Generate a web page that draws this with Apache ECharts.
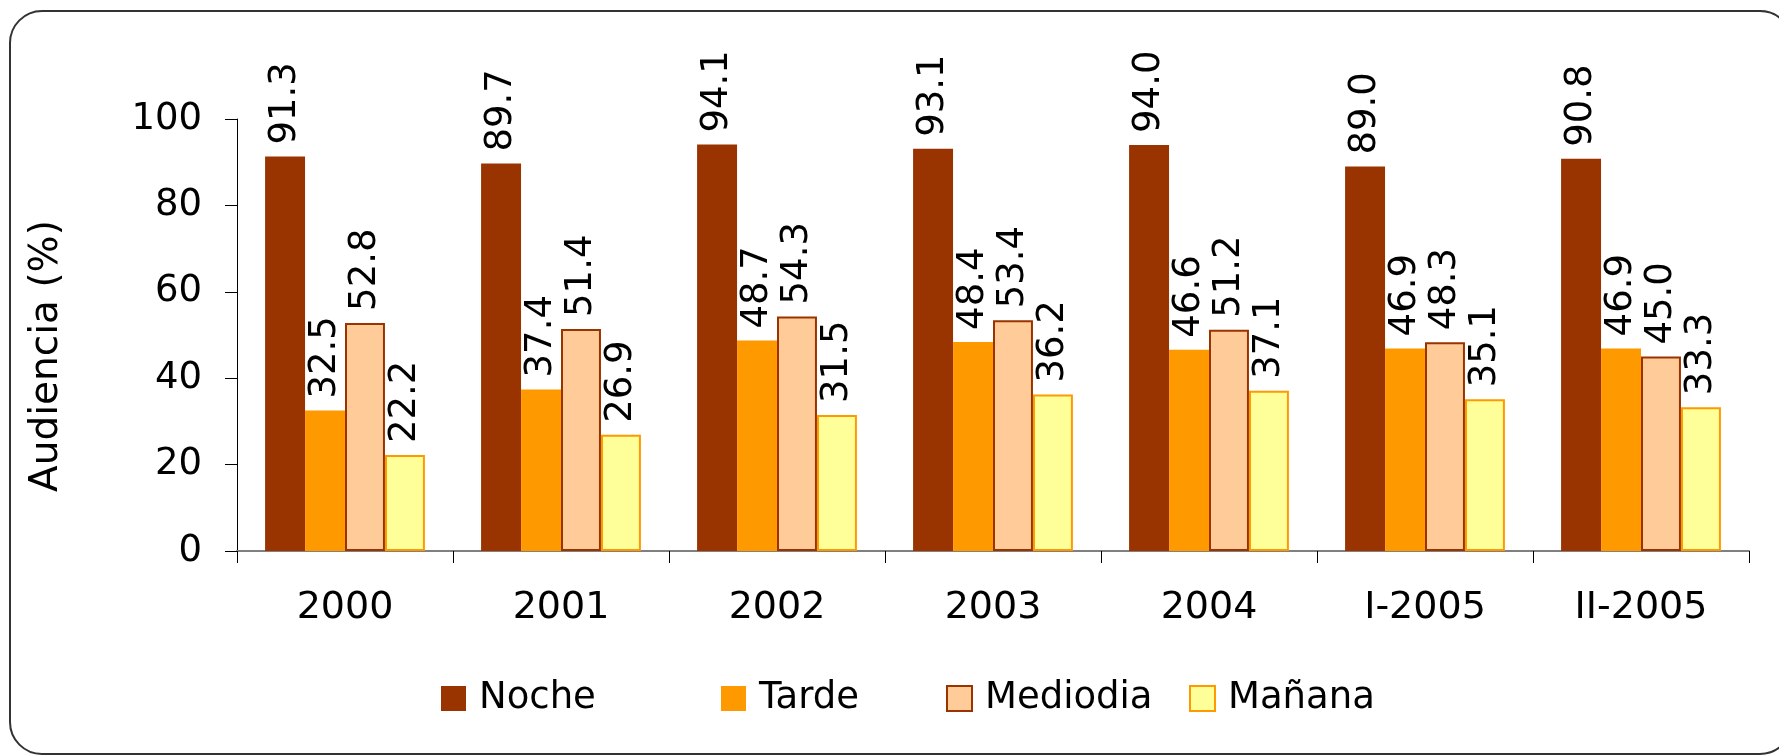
<!DOCTYPE html>
<html>
<head>
<meta charset="utf-8">
<script src="https://cdn.jsdelivr.net/npm/echarts@6/dist/echarts.min.js"></script>
<style>
  html, body { margin: 0; padding: 0; background: #ffffff; }
  #chart { width: 1779px; height: 755px; }
</style>
</head>
<body>
<div id="chart"></div>
<script>
// Audiencia por franja horaria, 2000 – II-2005
const categories = ['2000', '2001', '2002', '2003', '2004', 'I-2005', 'II-2005'];
const seriesNames = ['Noche', 'Tarde', 'Mediodia', 'Mañana'];
const noche    = [91.3, 89.7, 94.1, 93.1, 94.0, 89.0, 90.8];
const tarde    = [32.5, 37.4, 48.7, 48.4, 46.6, 46.9, 46.9];
const mediodia = [52.8, 51.4, 54.3, 53.4, 51.2, 48.3, 45.0];
const manana   = [22.2, 26.9, 31.5, 36.2, 37.1, 35.1, 33.3];
const yTicks   = [0, 20, 40, 60, 80, 100];

const seriesValues = [noche, tarde, mediodia, manana];
const fills   = ['#993300', '#FF9900', '#FFCC99', '#FFFF99'];
const borders = ['#993300', '#FF9900', '#993300', '#FF9900'];
const borderWidths = [0, 0, 2, 2];
const legendLeft = [441, 721, 946, 1189];

const valueFont = 'DejaVu Sans, Verdana, sans-serif';

const chart = echarts.init(document.getElementById('chart'), null, { renderer: 'canvas' });

const series = seriesNames.map((name, i) => ({
  name: name,
  type: 'bar',
  data: seriesValues[i],
  barGap: '0%',
  barCategoryGap: '26%',
  itemStyle: {
    color: fills[i],
    borderColor: borders[i],
    borderWidth: borderWidths[i]
  },
  label: {
    show: true,
    position: 'top',
    rotate: 90,
    distance: 12,
    align: 'left',
    verticalAlign: 'middle',
    fontFamily: valueFont,
    fontSize: 37,
    color: '#000000',
    formatter: p => p.value.toFixed(1)
  }
}));

const legends = seriesNames.map((name, i) => ({
  data: [{ name: name, icon: 'rect' }],
  left: legendLeft[i],
  top: 680,
  padding: 0,
  itemWidth: 25,
  itemHeight: 25,
  selectedMode: false,
  textStyle: {
    fontFamily: valueFont,
    fontSize: 37,
    color: '#000000',
    padding: [0, 0, 0, 8]
  }
}));

chart.setOption({
  animation: false,
  backgroundColor: '#ffffff',
  graphic: [{
    type: 'rect',
    z: -10,
    shape: { x: 10, y: 11, width: 1782, height: 743, r: 32 },
    style: { fill: 'none', stroke: '#333333', lineWidth: 2 }
  }],
  legend: legends,
  grid: { left: 237, right: 30, top: 119, bottom: 204, containLabel: false },
  xAxis: {
    type: 'category',
    data: categories,
    axisLine: { lineStyle: { color: '#808080', width: 2 } },
    axisTick: { show: true, length: 12, lineStyle: { color: '#000000', width: 1 } },
    axisLabel: {
      margin: 38,
      fontFamily: valueFont,
      fontSize: 38,
      color: '#000000'
    }
  },
  yAxis: {
    type: 'value',
    min: yTicks[0],
    max: yTicks[yTicks.length - 1],
    interval: yTicks[1] - yTicks[0],
    name: 'Audiencia (%)',
    nameLocation: 'middle',
    nameGap: 171,
    nameRotate: 90,
    nameTextStyle: {
      fontFamily: valueFont,
      fontSize: 39,
      color: '#000000',
      padding: [0, 42, 0, 0]
    },
    axisLine: { show: true, lineStyle: { color: '#000000', width: 1 } },
    axisTick: { show: true, length: 12, lineStyle: { color: '#000000', width: 1 } },
    splitLine: { show: false },
    axisLabel: {
      margin: 35,
      fontFamily: valueFont,
      fontSize: 37,
      color: '#000000'
    }
  },
  series: series
});
</script>
</body>
</html>
